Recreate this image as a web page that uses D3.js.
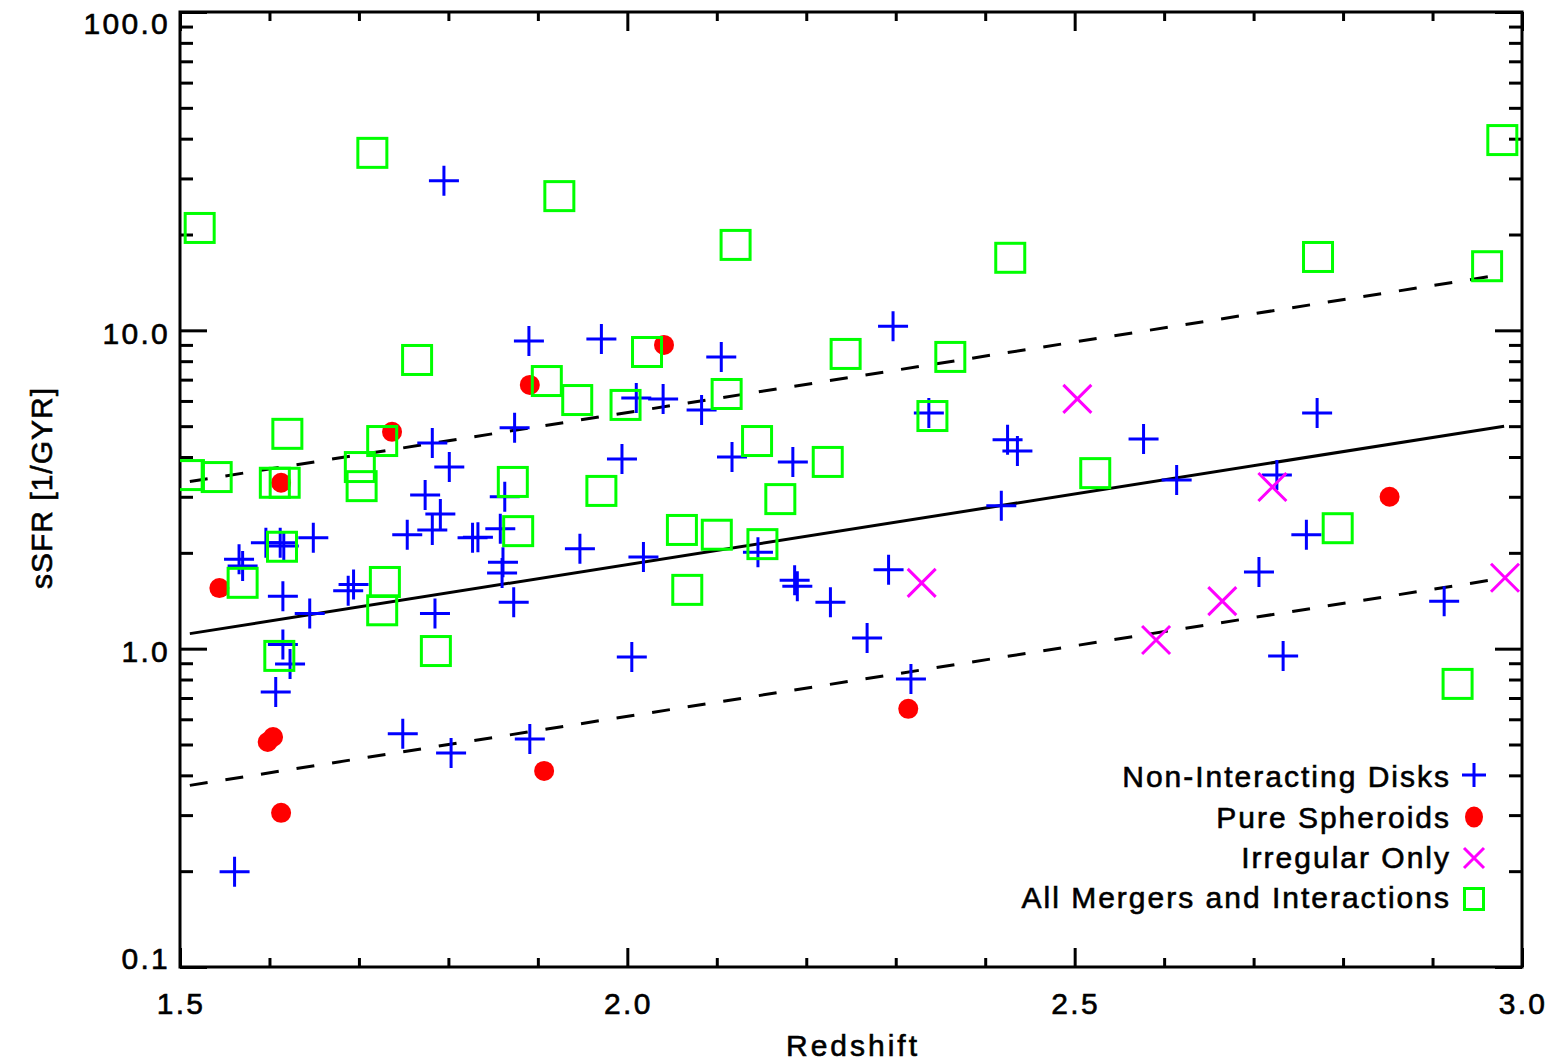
<!DOCTYPE html>
<html><head><meta charset="utf-8">
<script src="https://cdn.jsdelivr.net/npm/d3@7"></script>
<style>
body{margin:0;background:#fff;}
text{font-family:"Liberation Sans",Arial,sans-serif;fill:#000;stroke:#000;stroke-width:0.6px;}
</style>
</head><body>
<svg id="chart" width="1557" height="1062"></svg>
<script>
// ---- data (redshift z, sSFR in 1/Gyr) ----
const disks = [
[1.795,29.5],[2.297,10.3],[1.890,9.26],[1.971,9.40],[2.105,8.25],[2.010,6.13],[2.040,6.09],[2.083,5.62],
[1.874,4.94],[1.782,4.43],[1.801,3.72],[1.994,3.94],[2.117,4.00],[2.185,3.86],[1.774,3.04],[1.791,2.65],
[1.754,2.28],[1.782,2.36],[1.827,2.23],[1.833,2.24],[1.863,3.00],[1.858,2.38],[1.861,1.87],[1.860,1.73],
[1.873,1.40],[1.947,2.06],[2.018,1.94],[2.146,2.01],[2.187,1.64],[2.190,1.57],[2.005,0.942],[2.227,1.40],
[2.268,1.08],[2.292,1.77],[2.317,0.803],[2.337,5.50],[2.425,4.53],[2.436,4.18],[2.577,4.56],[2.418,2.81],
[2.614,3.39],[2.771,5.50],[2.726,3.51],[2.759,2.28],[2.706,1.74],[2.733,0.949],[2.913,1.41],[1.649,2.23],
[1.596,2.15],[1.612,2.15],[1.616,2.10],[1.566,1.91],[1.570,1.82],[1.615,1.46],[1.645,1.29],[1.688,1.52],
[1.694,1.59],[1.785,1.29],[1.615,1.03],[1.623,0.895],[1.607,0.731],[1.561,0.199],[1.749,0.540],[1.803,0.470],
[1.891,0.520]
];
const spheroids = [
[1.544,1.55],[1.613,3.32],[1.737,4.80],[1.891,6.74],[2.041,9.00],[1.598,0.509],[1.604,0.528],
[1.613,0.305],[1.907,0.413],[2.314,0.647],[2.852,3.00]
];
const irregulars = [
[2.503,6.09],[2.329,1.61],[2.721,3.22],[2.665,1.41],[2.591,1.065],[2.981,1.67]
];
const mergers = [
[1.522,20.97],[1.715,36.1],[1.924,26.4],[2.121,18.55],[2.428,16.9],[2.772,17.0],[2.978,39.6],[2.961,15.9],
[1.765,8.07],[1.910,6.93],[1.944,6.04],[1.998,5.83],[2.022,8.55],[2.111,6.31],[2.244,8.43],[2.361,8.25],
[2.341,5.38],[2.145,4.49],[2.224,3.86],[2.171,2.95],[2.523,3.56],[2.151,2.13],[2.100,2.28],[2.061,2.36],
[2.067,1.53],[1.971,3.13],[1.872,3.34],[1.878,2.34],[2.794,2.39],[2.928,0.775],[1.786,0.983],[1.611,0.949],
[1.570,1.61],[1.726,1.32],[1.729,1.62],[1.614,2.09],[1.620,4.73],[1.726,4.49],[1.701,3.72],[1.703,3.24],
[1.606,3.32],[1.617,3.32],[1.541,3.46],[1.510,3.51]
];
const trendLine = [[1.511,1.115],[2.98,5.0]];
const upperLine = [[1.511,3.35],[2.98,15.0]];
const lowerLine = [[1.511,0.372],[2.98,1.667]];

const xTickValues = [1.5,2.0,2.5,3.0];
const xTickLabels = ["1.5","2.0","2.5","3.0"];
const yTickValues = [0.1,1,10,100];
const yTickLabels = ["0.1","1.0","10.0","100.0"];
const legendLabels = ["Non-Interacting Disks","Pure Spheroids","Irregular Only","All Mergers and Interactions"];
const xTitle = "Redshift";
const yTitle = "sSFR [1/GYR]";

// ---- layout ----
const L=180, R=1522, T=12, B=967;
const svg = d3.select("#chart");
const x = d3.scaleLinear().domain([1.5,3.0]).range([L,R]);
const y = d3.scaleLog().domain([0.1,100]).range([B,T]);

svg.append("defs").append("clipPath").attr("id","plotclip")
  .append("rect").attr("x",L).attr("y",T).attr("width",R-L).attr("height",B-T);

const black="#000";
function drawAxis(gen, tx, ty, vals, size){
  svg.append("g").attr("transform",`translate(${tx},${ty})`)
    .call(gen.tickValues(vals).tickSize(size).tickSizeOuter(0).tickFormat(""))
    .call(g=>{g.select(".domain").remove();
      g.selectAll("line").attr("stroke",black).attr("stroke-width",3);});
}
const xMinor = x.ticks(15).filter(v=>!xTickValues.some(t=>Math.abs(t-v)<1e-6));
const yMinor = y.ticks().filter(v=>!yTickValues.some(t=>Math.abs(t-v)/t<1e-6));

drawAxis(d3.axisLeft(y),L,0,yTickValues,-27);
drawAxis(d3.axisLeft(y),L,0,yMinor,-13);
drawAxis(d3.axisRight(y),R,0,yTickValues,-27);
drawAxis(d3.axisRight(y),R,0,yMinor,-13);
drawAxis(d3.axisBottom(x),0,B,xTickValues,-19);
drawAxis(d3.axisBottom(x),0,B,xMinor,-9);
drawAxis(d3.axisTop(x),0,T,xTickValues,-19);
drawAxis(d3.axisTop(x),0,T,xMinor,-9);

// frame
svg.append("rect").attr("x",L).attr("y",T).attr("width",R-L).attr("height",B-T)
  .attr("fill","none").attr("stroke",black).attr("stroke-width",3);

// tick labels
const fs = 30, ls = 2.3, lls = 2.0;
svg.append("g").selectAll("text").data(xTickValues).join("text")
  .attr("x",d=>x(d)+1).attr("y",1014).attr("text-anchor","middle")
  .attr("font-size",fs).attr("letter-spacing",ls)
  .text((d,i)=>xTickLabels[i]);
svg.append("g").selectAll("text").data(yTickValues).join("text")
  .attr("x",170).attr("y",d=>Math.max(T+11,Math.min(B-9,y(d)+2.5))+11)
  .attr("text-anchor","end").attr("font-size",fs).attr("letter-spacing",ls)
  .text((d,i)=>yTickLabels[i]);

// titles
svg.append("text").attr("x",(L+R)/2+2).attr("y",1056).attr("text-anchor","middle")
  .attr("font-size",fs).attr("letter-spacing",3).text(xTitle);
svg.append("text").attr("transform","translate(52,488) rotate(-90)").attr("text-anchor","middle")
  .attr("font-size",fs).attr("letter-spacing",1).text(yTitle);

// plot content
const plot = svg.append("g").attr("clip-path","url(#plotclip)");
const line = d3.line().x(d=>x(d[0])).y(d=>y(d[1]));
plot.append("path").datum(trendLine).attr("d",line).attr("fill","none").attr("stroke",black).attr("stroke-width",3);
plot.append("path").datum(upperLine).attr("d",line).attr("fill","none").attr("stroke",black).attr("stroke-width",3).attr("stroke-dasharray","18,18");
plot.append("path").datum(lowerLine).attr("d",line).attr("fill","none").attr("stroke",black).attr("stroke-width",3).attr("stroke-dasharray","18,18");

const plusPath = s=>`M${-s},0H${s}M0,${-s}V${s}`;
const xPath = s=>`M${-s},${-s}L${s},${s}M${-s},${s}L${s},${-s}`;

plot.append("g").selectAll("path").data(disks).join("path")
  .attr("transform",d=>`translate(${x(d[0])},${y(d[1])})`).attr("d",plusPath(15))
  .attr("stroke","#0000ff").attr("stroke-width",3).attr("fill","none");
plot.append("g").selectAll("circle").data(spheroids).join("circle")
  .attr("cx",d=>x(d[0])).attr("cy",d=>y(d[1])).attr("r",10).attr("fill","#ff0000");
plot.append("g").selectAll("path").data(irregulars).join("path")
  .attr("transform",d=>`translate(${x(d[0])},${y(d[1])})`).attr("d",xPath(14))
  .attr("stroke","#ff00ff").attr("stroke-width",3).attr("fill","none");
plot.append("g").selectAll("rect").data(mergers).join("rect")
  .attr("x",d=>x(d[0])-14.5).attr("y",d=>y(d[1])-14.5).attr("width",29).attr("height",29)
  .attr("fill","none").attr("stroke","#00ff00").attr("stroke-width",3);

// legend
const lg = svg.append("g");
const legBase = [787,828,868,908];
lg.selectAll("text").data(legendLabels).join("text")
  .attr("x",1451).attr("y",(d,i)=>legBase[i]).attr("text-anchor","end")
  .attr("font-size",fs).attr("letter-spacing",lls).text(d=>d);
const mx = 1474;
lg.append("path").attr("transform",`translate(${mx},${legBase[0]-12})`).attr("d",plusPath(12))
  .attr("stroke","#0000ff").attr("stroke-width",3);
lg.append("ellipse").attr("cx",mx).attr("cy",legBase[1]-11).attr("rx",9).attr("ry",10.5).attr("fill","#ff0000");
lg.append("path").attr("transform",`translate(${mx},${legBase[2]-10})`).attr("d",xPath(10))
  .attr("stroke","#ff00ff").attr("stroke-width",3);
lg.append("rect").attr("x",mx-9.5).attr("y",legBase[3]-9-10.5).attr("width",19).attr("height",21)
  .attr("fill","none").attr("stroke","#00ff00").attr("stroke-width",3);
</script>
</body></html>
